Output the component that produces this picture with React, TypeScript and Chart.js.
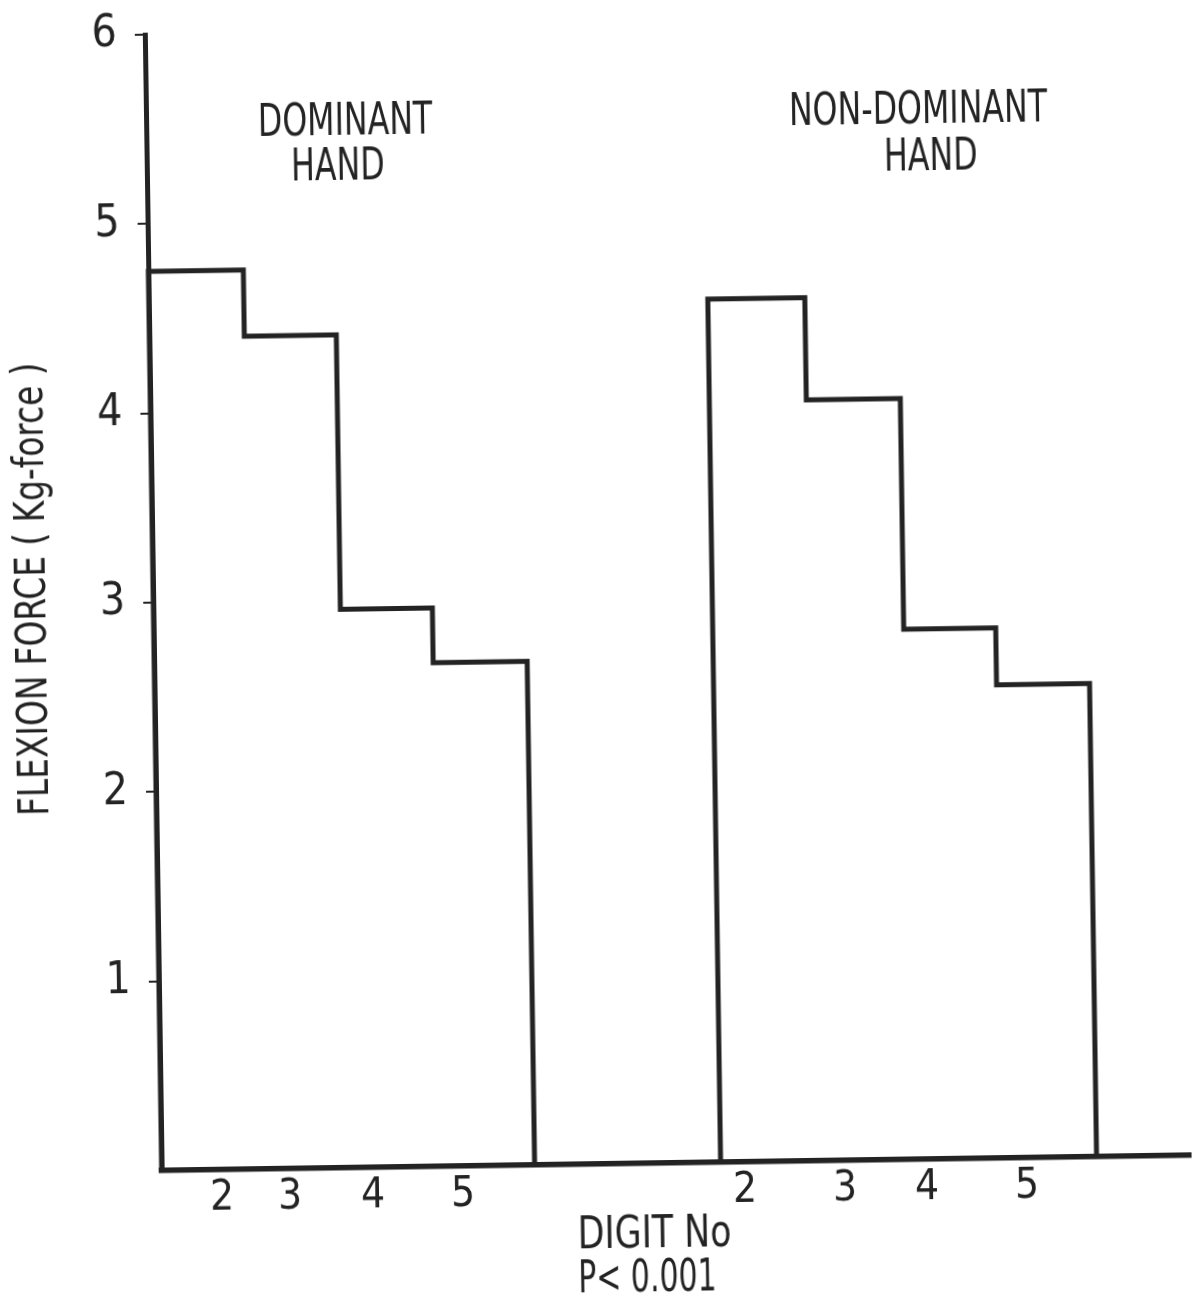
import React, { useEffect, useRef } from "react";
import { Chart, registerables } from "chart.js";

Chart.register(...registerables);

// ---- data (x in arbitrary axis units, y in Kg-force) ----
const dominantEdges = [0, 0.95, 1.87, 2.79, 3.73];
const dominantForce = [4.75, 4.4, 2.95, 2.66];
const nonDominantEdges = [5.59, 6.56, 7.5, 8.42, 9.35];
const nonDominantForce = [4.56, 4.02, 2.8, 2.5];

const digitLabels = ["2", "3", "4", "5", "2", "3", "4", "5"];
const digitPositions = [0.6, 1.28, 2.11, 3.01, 5.83, 6.83, 7.65, 8.65];

const yTickValues = [0, 1, 2, 3, 4, 5, 6];

const groupTitles = [
  { text: "DOMINANT", x: 1.99, y: 5.456 },
  { text: "HAND", x: 1.91, y: 5.22 },
  { text: "NON-DOMINANT", x: 7.72, y: 5.474 },
  { text: "HAND", x: 7.84, y: 5.225 },
];

const yTitle = "FLEXION FORCE ( Kg-force )";
const xTitleLines = ["DIGIT No", "P< 0.001"];

const INK = "#232323";
const TITLE_FONT = "DejaVu Sans";
const TICK_FONT = "'Liberation Sans Narrow', 'DejaVu Sans Condensed', Roboto, sans-serif";

function stepPoints(edges: number[], values: number[]) {
  const pts: { x: number; y: number }[] = [{ x: edges[0], y: 0 }];
  values.forEach((v, i) => {
    pts.push({ x: edges[i], y: v });
    pts.push({ x: edges[i + 1], y: v });
  });
  pts.push({ x: edges[edges.length - 1], y: 0 });
  return pts;
}

function drawCondensed(
  ctx: CanvasRenderingContext2D,
  text: string,
  x: number,
  y: number,
  size: number,
  sx: number,
  align: CanvasTextAlign,
  rotate = 0
) {
  ctx.save();
  ctx.translate(x, y);
  if (rotate) ctx.rotate(rotate);
  ctx.scale(sx, 1);
  ctx.font = `${size}px '${TITLE_FONT}'`;
  ctx.fillStyle = INK;
  ctx.textAlign = align;
  ctx.textBaseline = "alphabetic";
  ctx.fillText(text, 0, 0);
  ctx.restore();
}

const textPlugin = {
  id: "condensedTexts",
  afterDraw(chart: any) {
    const { ctx, chartArea, scales } = chart;
    const xs = scales.x;
    const ys = scales.y;
    groupTitles.forEach((t) => {
      drawCondensed(ctx, t.text, xs.getPixelForValue(t.x), ys.getPixelForValue(t.y), 44, 0.72, "center");
    });
    // y axis title (rotated)
    drawCondensed(ctx, yTitle, 46, ys.getPixelForValue(3.08), 42, 0.78, "center", -Math.PI / 2);
    // x axis title, two lines
    const left = chartArea.left + 415;
    drawCondensed(ctx, xTitleLines[0], left, chartArea.bottom + 84, 44, 0.79, "left");
    drawCondensed(ctx, xTitleLines[1], left, chartArea.bottom + 128, 44, 0.68, "left");
  },
};

export default function App() {
  const ref = useRef<HTMLCanvasElement | null>(null);

  useEffect(() => {
    if (!ref.current) return;
    const lineStyle = {
      borderColor: INK,
      borderWidth: 5,
      pointRadius: 0,
      fill: false,
      tension: 0,
      clip: false as any,
      borderJoinStyle: "miter" as const,
    };
    const chart = new Chart(ref.current, {
      type: "line",
      data: {
        datasets: [
          { label: "Dominant hand", data: stepPoints(dominantEdges, dominantForce), ...lineStyle },
          { label: "Non-dominant hand", data: stepPoints(nonDominantEdges, nonDominantForce), ...lineStyle },
        ],
      },
      options: {
        animation: false,
        responsive: false,
        devicePixelRatio: 1,
        layout: { padding: { left: 0, top: 28, right: 20, bottom: 0 } },
        plugins: {
          legend: { display: false },
          tooltip: { enabled: false },
          title: { display: false },
        },
        scales: {
          x: {
            type: "linear",
            min: 0,
            max: 10.29,
            afterBuildTicks: (scale: any) => {
              scale.ticks = digitPositions.map((v) => ({ value: v }));
            },
            afterFit: (scale: any) => {
              scale.height = 138;
              scale.paddingLeft = 0;
              scale.paddingRight = 0;
            },
            ticks: {
              autoSkip: false,
              maxRotation: 0,
              padding: -4,
              color: INK,
              font: { family: TICK_FONT, size: 42 },
              callback: (_v: any, i: number) => digitLabels[i],
            },
            grid: { display: false },
            border: { display: true, color: INK, width: 5.5 },
          },
          y: {
            type: "linear",
            min: 0,
            max: 6,
            afterBuildTicks: (scale: any) => {
              scale.ticks = yTickValues.map((v) => ({ value: v }));
            },
            afterFit: (scale: any) => {
              scale.width = 154;
              scale.paddingTop = 0;
              scale.paddingBottom = 0;
            },
            ticks: {
              padding: 18,
              color: INK,
              font: { family: TICK_FONT, size: 44 },
              callback: (v: any) => (v === 0 ? "" : String(v)),
            },
            grid: {
              drawOnChartArea: false,
              drawTicks: true,
              tickLength: 10,
              color: (c: any) => (c.tick && c.tick.value === 0 ? "rgba(0,0,0,0)" : INK),
              lineWidth: 2,
            },
            border: { display: true, color: INK, width: 5 },
          },
        },
      } as any,
      plugins: [textPlugin],
    });
    return () => chart.destroy();
  }, []);

  return (
    <div style={{ position: "absolute", left: 0, top: 0, width: 1203, height: 1302, background: "#fff", overflow: "hidden" }}>
      <canvas
        ref={ref}
        width={1203}
        height={1302}
        style={{
          display: "block",
          width: 1203,
          height: 1302,
          transform: "rotate(-0.85deg)",
          transformOrigin: "600px 650px",
        }}
      />
    </div>
  );
}
